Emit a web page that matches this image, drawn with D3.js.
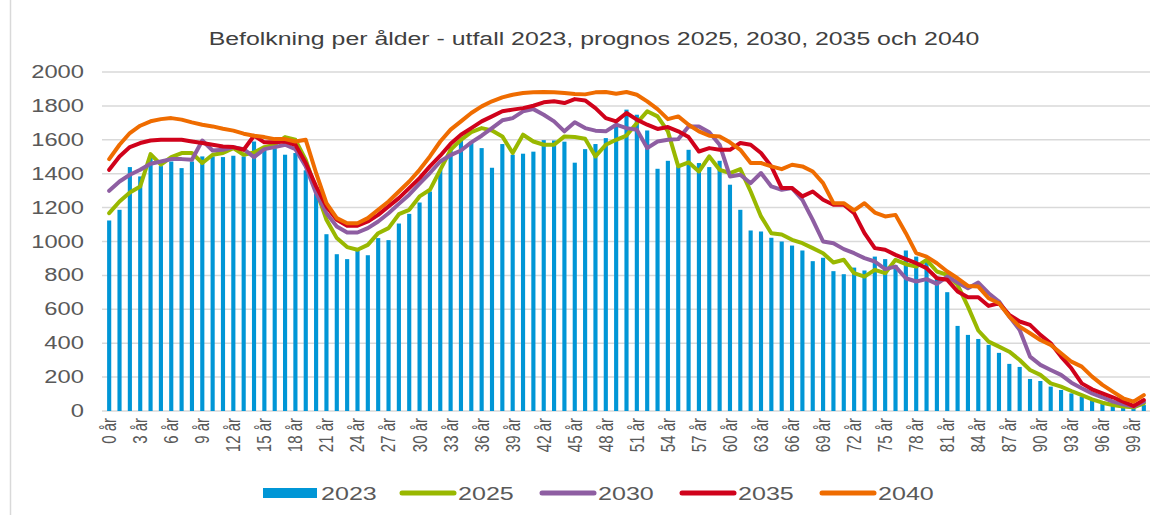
<!DOCTYPE html>
<html><head><meta charset="utf-8">
<script src="https://cdn.jsdelivr.net/npm/d3@7"></script>
<style>body{margin:0;background:#fff}svg{display:block}text{font-family:"Liberation Sans",Arial,sans-serif}</style>
</head><body><svg id="c" width="1168" height="515"></svg>
<script>
const title = "Befolkning per ålder - utfall 2023, prognos 2025, 2030, 2035 och 2040";
const ages = d3.range(0, 101).map(a => a + " år");
const yTicks = [0,200,400,600,800,1000,1200,1400,1600,1800,2000];
const seriesNames = ["2023","2025","2030","2035","2040"];
const v2023 = [1124,1187,1439,1384,1500,1445,1472,1433,1472,1502,1502,1498,1506,1502,1590,1541,1551,1512,1522,1420,1280,1043,925,896,950,919,1020,1008,1106,1163,1230,1295,1423,1557,1600,1581,1551,1435,1575,1512,1518,1530,1598,1596,1589,1465,1545,1575,1610,1679,1778,1748,1655,1429,1476,1443,1541,1463,1439,1476,1335,1187,1065,1059,1022,1000,976,947,884,904,825,807,846,829,911,896,860,947,911,884,793,701,502,449,425,390,343,278,260,189,177,144,124,104,85,65,45,33,26,20,35];
const v2025 = [1167,1236,1289,1325,1516,1453,1498,1522,1522,1463,1512,1522,1551,1512,1525,1557,1571,1616,1600,1482,1305,1128,1020,967,951,980,1049,1079,1161,1187,1266,1305,1423,1541,1600,1645,1669,1655,1620,1522,1630,1590,1571,1571,1620,1616,1606,1502,1571,1600,1625,1699,1768,1738,1650,1443,1467,1413,1502,1423,1404,1427,1295,1148,1049,1041,1010,990,961,931,876,892,813,793,833,813,892,866,852,892,823,803,744,616,475,409,380,350,301,242,213,163,144,118,94,69,49,35,26,22,45];
const v2030 = [1299,1354,1394,1423,1459,1472,1486,1486,1482,1596,1537,1541,1557,1545,1498,1545,1557,1571,1545,1443,1285,1167,1089,1053,1053,1079,1118,1167,1222,1276,1341,1404,1472,1510,1537,1585,1624,1669,1715,1728,1768,1781,1748,1709,1650,1703,1669,1654,1650,1689,1669,1659,1551,1590,1600,1604,1679,1679,1644,1571,1384,1394,1344,1404,1325,1305,1315,1246,1128,1000,990,955,931,902,882,837,852,783,764,778,750,793,758,724,758,695,646,557,478,321,272,242,213,167,134,104,81,55,39,26,55];
const v2035 = [1423,1502,1557,1581,1596,1600,1600,1600,1590,1581,1571,1561,1557,1541,1624,1585,1585,1590,1571,1463,1325,1207,1128,1093,1093,1118,1157,1207,1256,1315,1374,1443,1506,1576,1630,1669,1709,1738,1768,1778,1787,1801,1821,1827,1817,1840,1832,1787,1728,1709,1758,1719,1689,1664,1675,1650,1616,1531,1551,1541,1541,1581,1571,1522,1443,1315,1315,1266,1295,1246,1217,1217,1167,1049,961,951,921,896,872,843,783,774,705,671,671,620,636,567,528,508,449,400,321,252,163,128,104,81,55,30,65];
const v2040 = [1486,1571,1640,1683,1709,1722,1728,1719,1703,1689,1679,1665,1654,1636,1624,1616,1604,1604,1590,1600,1404,1226,1138,1108,1108,1138,1187,1236,1295,1354,1423,1502,1590,1660,1709,1758,1797,1827,1850,1866,1876,1880,1882,1880,1876,1870,1868,1880,1882,1872,1882,1866,1827,1781,1722,1738,1689,1650,1624,1620,1585,1541,1463,1463,1443,1427,1453,1443,1413,1344,1226,1226,1183,1226,1171,1148,1157,1049,931,911,872,823,783,738,734,665,636,557,498,459,419,390,341,291,262,203,154,114,75,55,94];

const colors = {"2023":"#0096d6","2025":"#99b800","2030":"#8e5ea2","2035":"#d0021b","2040":"#ef6c00"};
const lineSeries = [["2025",v2025],["2030",v2030],["2035",v2035],["2040",v2040]];

const svg = d3.select("#c");
const SX = 1.32;
const x = d3.scaleBand().domain(ages).range([104, 1149]).paddingInner(0.6).paddingOuter(0.3);
const y = d3.scaleLinear().domain([0, 2000]).range([411, 72]);

// border
svg.append("line").attr("x1",10.5).attr("x2",10.5).attr("y1",0).attr("y2",515).attr("stroke","#d9d9d9").attr("stroke-width",1.5);

// title
svg.append("text").attr("transform","translate(594,45) scale(1.42,1)").attr("text-anchor","middle")
  .attr("font-size",17.5).attr("fill","#404040").text(title);

// gridlines
svg.append("g").selectAll("line").data(yTicks).join("line")
  .attr("x1",102).attr("x2",1150).attr("y1",d=>y(d)).attr("y2",d=>y(d))
  .attr("stroke","#d9d9d9").attr("stroke-width",1.5);

// y labels
svg.append("g").selectAll("text").data(yTicks).join("text")
  .attr("transform",d=>`translate(84,${y(d)+6}) scale(${SX},1)`)
  .attr("text-anchor","end").attr("font-size",18).attr("fill","#595959").text(d=>d);

// bars
svg.append("g").selectAll("rect").data(v2023).join("rect")
  .attr("x",(d,i)=>x(ages[i])).attr("width",x.bandwidth())
  .attr("y",d=>y(d)).attr("height",d=>y(0)-y(d)).attr("fill",colors["2023"]);

// lines
const line = d3.line().x((d,i)=>x(ages[i])+x.bandwidth()/2).y(d=>y(d));
svg.append("g").selectAll("path").data(lineSeries).join("path")
  .attr("d",d=>line(d[1])).attr("fill","none").attr("stroke",d=>colors[d[0]])
  .attr("stroke-width",4).attr("stroke-linejoin","round").attr("stroke-linecap","round");

// x labels
const xl = ages.filter((a,i)=>i%3===0 && i<100);
svg.append("g").selectAll("text").data(xl).join("text")
  .attr("transform",d=>`translate(${x(d)+x.bandwidth()/2},418) scale(${SX},1) rotate(-90)`)
  .attr("text-anchor","end").attr("dy","0.35em").attr("font-size",15).attr("fill","#595959").text(d=>d);

// legend
const lg = svg.append("g");
const legX = [263,400,540,680,820];
seriesNames.forEach((s,i)=>{
  const x0 = legX[i];
  if(i===0){
    lg.append("rect").attr("x",x0).attr("y",488).attr("width",54).attr("height",10).attr("fill",colors[s]);
  } else {
    lg.append("line").attr("x1",x0+2).attr("x2",x0+54).attr("y1",493).attr("y2",493)
      .attr("stroke",colors[s]).attr("stroke-width",5).attr("stroke-linecap","round");
  }
  lg.append("text").attr("transform",`translate(${x0+58},500) scale(${SX},1)`)
    .attr("font-size",19).attr("fill","#595959").text(s);
});
</script></body></html>
